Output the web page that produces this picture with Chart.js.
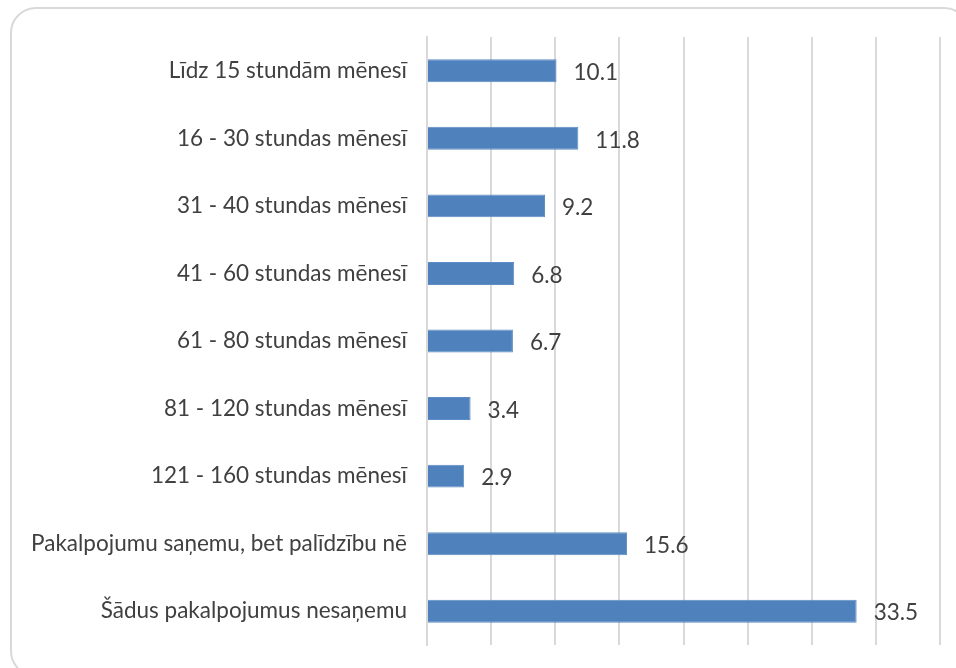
<!DOCTYPE html>
<html>
<head>
<meta charset="utf-8">
<script src="https://cdn.jsdelivr.net/npm/chart.js@4/dist/chart.umd.min.js"></script>
<style>
  html, body { margin: 0; padding: 0; background: #ffffff; }
  #wrap { position: relative; width: 956px; height: 668px; overflow: hidden; }
  #frame { position: absolute; left: 10px; top: 7px; width: 960px; height: 670px;
           border: 2px solid #d9d9d9; border-radius: 26px; box-sizing: border-box; }
  canvas { position: absolute; left: 0; top: 0; }
</style>
</head>
<body>
<div id="wrap">
  <div id="frame"></div>
  <canvas id="c" width="956" height="668"></canvas>
</div>
<script>
const categories = [
  "Līdz 15 stundām mēnesī",
  "16 - 30 stundas mēnesī",
  "31 - 40 stundas mēnesī",
  "41 - 60 stundas mēnesī",
  "61 - 80 stundas mēnesī",
  "81 - 120 stundas mēnesī",
  "121 - 160 stundas mēnesī",
  "Pakalpojumu saņemu, bet palīdzību nē",
  "Šādus pakalpojumus nesaņemu"
];
const values = [10.1, 11.8, 9.2, 6.8, 6.7, 3.4, 2.9, 15.6, 33.5];
const axisMin = 0, axisMax = 40, axisStep = 5;

const FONT = "Lato, 'Liberation Sans', sans-serif";
const FSIZE = 22.5;

const valueLabels = {
  id: 'valueLabels',
  afterDatasetsDraw(chart) {
    const ctx = chart.ctx;
    const meta = chart.getDatasetMeta(0);
    ctx.save();
    ctx.font = FSIZE + "px " + FONT;
    ctx.fillStyle = "#404040";
    ctx.textAlign = "left";
    ctx.textBaseline = "middle";
    meta.data.forEach((bar, i) => {
      ctx.fillText(values[i].toFixed(1), bar.x + 17, bar.y + 2);
    });
    ctx.restore();
  }
};

const chart = new Chart(document.getElementById('c'), {
  type: 'bar',
  data: {
    labels: categories,
    datasets: [{
      data: values,
      backgroundColor: '#4f81bd',
      borderColor: '#5e8cc4',
      borderWidth: 1,
      barPercentage: 0.34,
      categoryPercentage: 1.0
    }]
  },
  options: {
    indexAxis: 'y',
    responsive: false,
    animation: false,
    layout: { padding: { top: 37, bottom: 23, left: 0, right: 16 } },
    plugins: { legend: { display: false }, tooltip: { enabled: false } },
    scales: {
      x: {
        min: axisMin, max: axisMax,
        afterFit(scale) { scale.height = 0; scale.paddingLeft = 0; scale.paddingRight = 0; scale.paddingTop = 0; scale.paddingBottom = 0; },
        ticks: { display: false, stepSize: axisStep },
        grid: { color: '#d9d9d9', lineWidth: 2, drawTicks: false },
        border: { display: false }
      },
      y: {
        afterFit(scale) { scale.width = 427; scale.paddingTop = 0; scale.paddingBottom = 0; },
        ticks: { color: '#404040', font: { family: FONT, size: FSIZE }, padding: 20 },
        grid: { display: false, drawTicks: false },
        border: { display: true, color: '#d9d9d9', width: 2 }
      }
    }
  },
  plugins: [valueLabels]
});
</script>
</body>
</html>
